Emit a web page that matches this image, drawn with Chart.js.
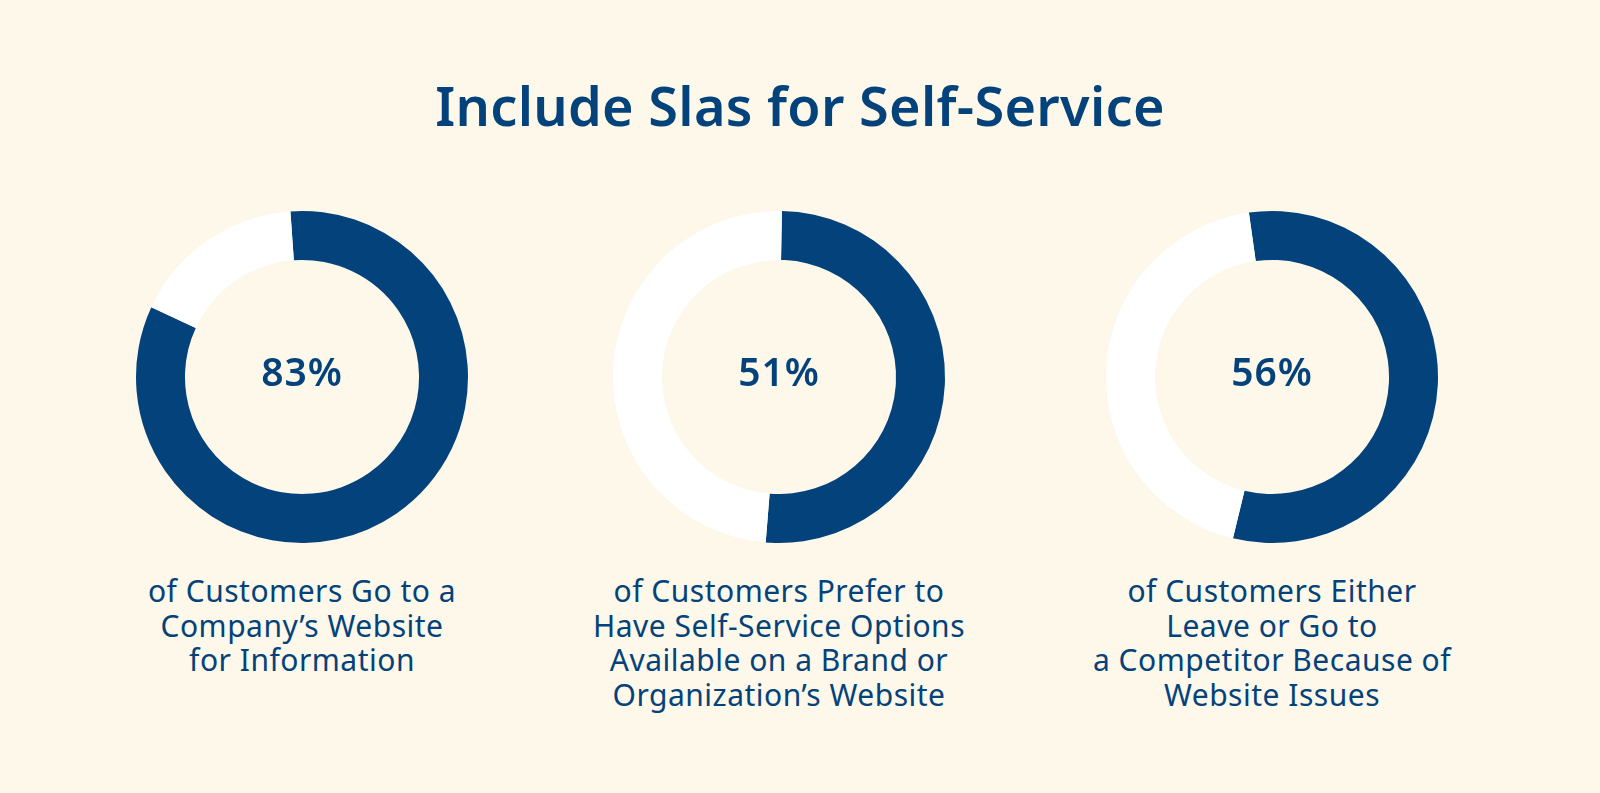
<!DOCTYPE html>
<html>
<head>
<meta charset="utf-8">
<script src="https://cdn.jsdelivr.net/npm/chart.js@4/dist/chart.umd.min.js"></script>
<style>
  html, body { margin: 0; padding: 0; }
  body {
    width: 1600px; height: 793px; overflow: hidden;
    background: #fdf8e9;
    font-family: "Noto Sans", sans-serif;
    color: #03427b;
    position: relative;
  }
  #title {
    position: absolute; left: 0; width: 1600px; top: 73px;
    text-align: center; font-size: 54px; font-weight: 600; line-height: 64px;
    letter-spacing: 0.3px;
  }
  .donut { position: absolute; width: 360px; height: 360px; top: 197px; }
  .pct {
    position: absolute; left: 0; width: 360px; top: 151px;
    text-align: center; font-size: 39px; font-weight: 600; line-height: 46px;
    letter-spacing: 1px;
  }
  .caption {
    position: absolute; width: 480px; top: 574px;
    text-align: center; font-size: 30px; line-height: 34.5px; font-weight: 400;
    letter-spacing: 0.5px;
  }
</style>
</head>
<body>
<div id="title">Include Slas for Self-Service</div>

<script>
const percents = [83, 51, 56];
const captions = [
  ["of Customers Go to a", "Company\u2019s Website", "for Information"],
  ["of Customers Prefer to", "Have Self-Service Options", "Available on a Brand or", "Organization\u2019s Website"],
  ["of Customers Either", "Leave or Go to", "a Competitor Because of", "Website Issues"]
];
const startAngles = [-4, 1, -8];
const centersX = [302, 779, 1272];

const dark = '#03427b';

percents.forEach(function (p, i) {
  var box = document.createElement('div');
  box.className = 'donut';
  box.style.left = (centersX[i] - 180) + 'px';
  var cv = document.createElement('canvas');
  cv.width = 360; cv.height = 360;
  box.appendChild(cv);
  var pct = document.createElement('div');
  pct.className = 'pct';
  pct.textContent = p + '%';
  box.appendChild(pct);
  document.body.appendChild(box);

  var cap = document.createElement('div');
  cap.className = 'caption';
  cap.style.left = (centersX[i] - 240) + 'px';
  cap.innerHTML = captions[i].join('<br>');
  document.body.appendChild(cap);

  new Chart(cv, {
    type: 'doughnut',
    data: {
      labels: ['Yes', 'Rest'],
      datasets: [{
        data: [p, 100 - p],
        backgroundColor: [dark, '#ffffff'],
        borderWidth: 0
      }]
    },
    options: {
      responsive: false,
      animation: false,
      radius: 166,
      cutout: '70.5%',
      rotation: startAngles[i],
      plugins: {
        legend: { display: false },
        tooltip: { enabled: false }
      }
    }
  });
});
</script>
</body>
</html>
